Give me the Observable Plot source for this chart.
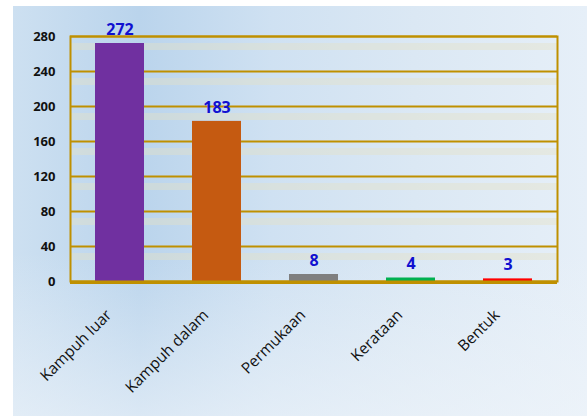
<!DOCTYPE html>
<html>
<head>
<meta charset="utf-8">
<script src="https://cdn.jsdelivr.net/npm/d3@7"></script>
<script src="https://cdn.jsdelivr.net/npm/@observablehq/plot@0.6"></script>
<style>
  html, body { margin: 0; padding: 0; background: #ffffff; }
  #wrap { position: relative; width: 587px; height: 416px; overflow: hidden; }
  #bg {
    position: absolute; left: 13px; top: 6px; width: 574px; height: 410px;
    background:
      linear-gradient(to bottom, rgba(255,255,255,0) 60%, rgba(240,245,250,0.6) 100%),
      linear-gradient(to right, #cde0f1 0%, #bad4ec 22%, #cfe1f2 45%, #dbe8f4 70%, #e6eff8 100%);
  }
  #chart { position: absolute; left: 0; top: 0; }
</style>
</head>
<body>
<div id="wrap"><div id="bg"></div><div id="chart"></div></div>
<script>
const categories = ["Kampuh luar", "Kampuh dalam", "Permukaan", "Kerataan", "Bentuk"];
const values = [272, 183, 8, 4, 3];
const colors = ["#7030a0", "#c55a11", "#7f7f7f", "#00b050", "#ff0000"];
const yTicks = [0, 40, 80, 120, 160, 200, 240, 280];

const data = categories.map((c, i) => ({category: c, value: values[i], color: colors[i]}));
const gold = "#bf9000";

const chart = Plot.plot({
  width: 587,
  height: 416,
  marginLeft: 70,
  marginRight: 30,
  marginTop: 36,
  marginBottom: 135,
  style: {background: "transparent", fontFamily: "'Open Sans', sans-serif"},
  x: {domain: categories, paddingInner: 0.5, paddingOuter: 0.25, label: null},
  y: {domain: [0, 280], label: null},
  marks: [
    Plot.ruleY(yTicks.slice(1), {stroke: "#e6e2c4", strokeWidth: 7, strokeOpacity: 0.4, dy: 10}),
    Plot.ruleY(yTicks, {stroke: gold, strokeWidth: 2}),
    Plot.barY(data, {x: "category", y: "value", fill: "color"}),
    Plot.frame({stroke: gold, strokeWidth: 2}),
    Plot.ruleY([0], {stroke: gold, strokeWidth: 3, dy: 1}),
    Plot.text(data, {x: "category", y: "value", text: d => String(d.value), dy: -14,
      fill: "#1010d0", fontWeight: "bold", fontSize: 16, fontFamily: "'Open Sans', sans-serif"}),
    Plot.axisY({ticks: yTicks, tickSize: 0, tickPadding: 15, fontSize: 13, fontWeight: "bold",
      fill: "#111", label: null}),
    Plot.axisX({tickSize: 0, tickRotate: -45, tickPadding: 14, dx: -11, dy: 17, fontSize: 15.5, fill: "#111", label: null})
  ]
});
document.getElementById("chart").appendChild(chart);
</script>
</body>
</html>
